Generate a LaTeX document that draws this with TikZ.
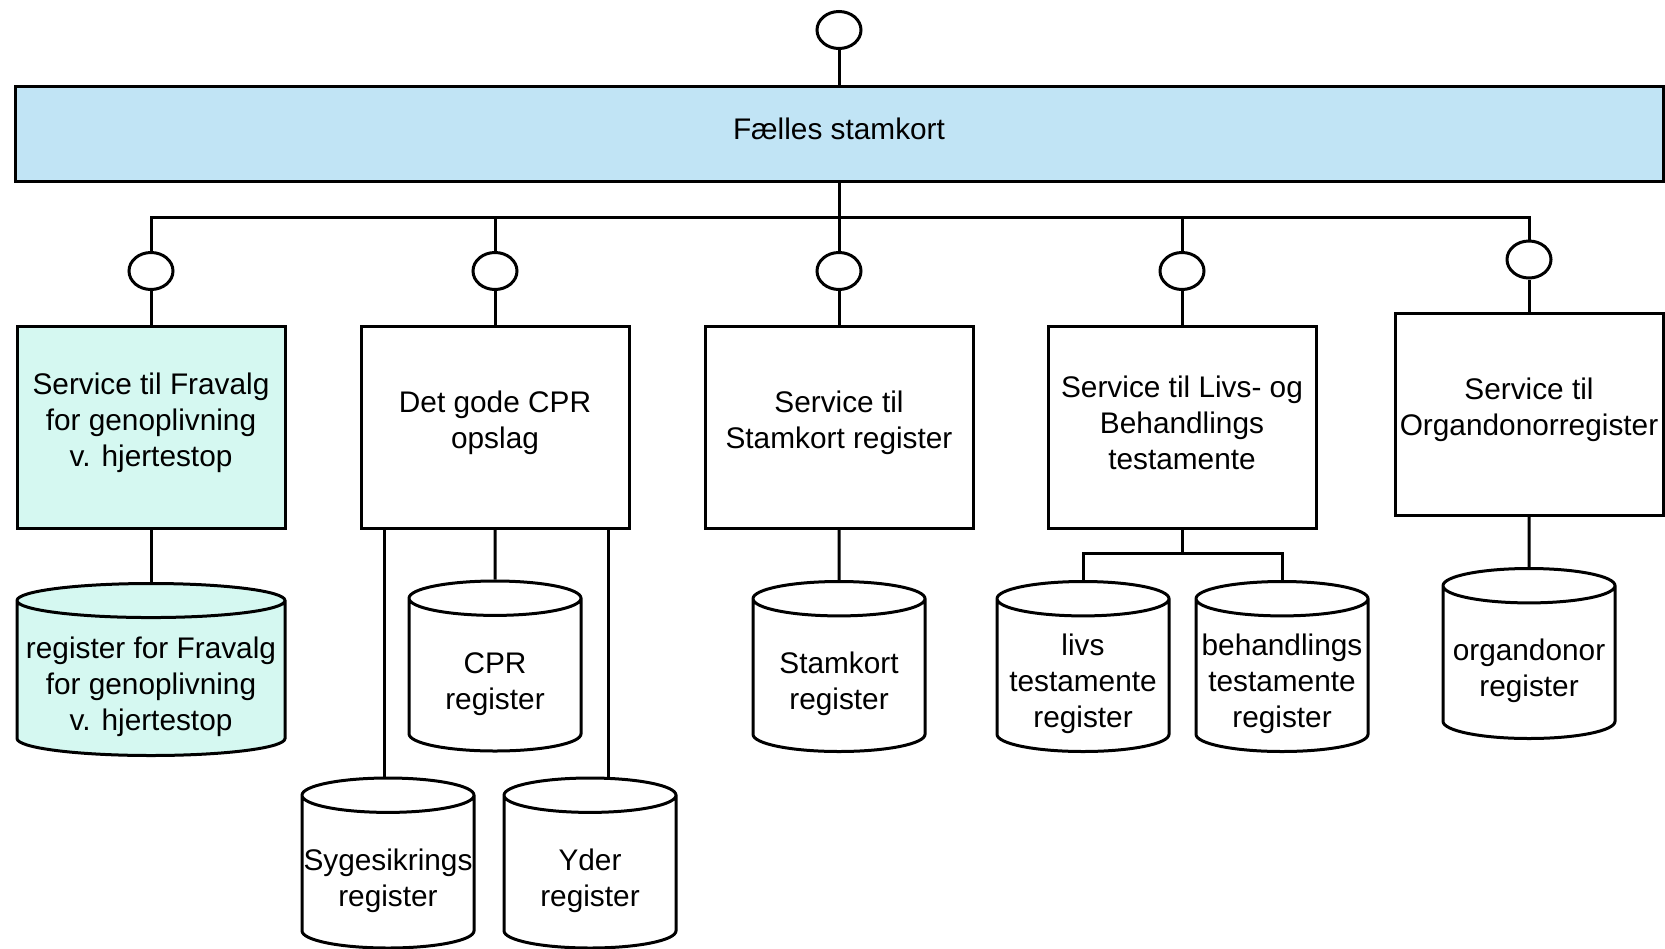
\documentclass[tikz,border=0pt]{standalone}
\usepackage{fontspec}
\setmainfont{Liberation Sans}
\usetikzlibrary{shapes.geometric}

\definecolor{barblue}{RGB}{193,228,245}
\definecolor{regcyan}{RGB}{213,248,241}

\begin{document}
\begin{tikzpicture}[x=0.5pt, y=-0.5pt, line width=1.5pt,
  every node/.style={font=\fontsize{14.9}{18}\selectfont, align=center, inner sep=0pt},
  svc/.style={draw, rectangle, minimum width=134pt, minimum height=101pt,
              label={[yshift=2.25pt]center:#1}},
  iface/.style={draw, ellipse, minimum width=22pt, minimum height=18.5pt},
  dbase/.style={draw, cylinder, shape border rotate=90, aspect=0.2, anchor=shape center,
                text width=86pt, minimum width=86pt, minimum height=85pt,
                label={[yshift=-4.2pt]center:#1}}]
\useasboundingbox (0,0) rectangle (1665,948);

% top bar
\node[draw, fill=barblue, minimum width=824pt, minimum height=47.5pt,
      label={[yshift=2.5pt]center:Fælles stamkort}] (stamkort) at (839,133.5) {};
\node[iface] (topif) at (839,30) {};
\draw (topif) -- (stamkort);

% interfaces
\node[iface] (if1) at (151,271) {};
\node[iface] (if2) at (495,271) {};
\node[iface] (if3) at (839,271) {};
\node[iface] (if4) at (1182,271) {};
\node[iface] (if5) at (1529,259.5) {};
\coordinate (split) at (839,217);
\draw (stamkort) -- (if3);
\draw (if1) |- (split) -| (if5);
\draw (if2) -- (if2 |- split);
\draw (if4) -- (if4 |- split);

% services
\node[svc={Service til Fravalg\\for genoplivning\\v. hjertestop}, fill=regcyan] (svc1) at (151,427) {};
\node[svc={Det gode CPR\\opslag}] (svc2) at (495,427) {};
\node[svc={Service til\\Stamkort register}] (svc3) at (839,427) {};
\node[svc={Service til Livs- og\\Behandlings\\testamente}] (svc4) at (1182,427) {};
\node[svc={Service til\\Organdonorregister}] (svc5) at (1529,414.5) {};
\foreach \i in {1,...,5}
  \draw (if\i) -- (svc\i);

% registers
\node[dbase={register for Fravalg\\for genoplivning\\v. hjertestop}, fill=regcyan,
      text width=134pt, minimum width=134pt, minimum height=86pt, aspect=0.127] (fravalg) at (151,669.5) {};
\node[dbase={CPR\\register}] (cpr) at (495,666) {};
\node[dbase={Sygesikrings\\register}] (syg) at (388,863) {};
\node[dbase={Yder\\register}] (yder) at (590,863) {};
\node[dbase={Stamkort\\register}] (stamreg) at (839,666.5) {};
\node[dbase={livs\\testamente\\register}] (livs) at (1083,666.5) {};
\node[dbase={behandlings\\testamente\\register}] (behand) at (1282,666.5) {};
\node[dbase={organdonor\\register}] (organ) at (1529,653.5) {};

\draw (svc1) -- (fravalg);
\draw (svc2) -- (cpr);
\draw ([xshift=12.5pt]svc2.south west) coordinate (sygtop) -- (sygtop |- syg.north);
\draw ([xshift=-11pt]svc2.south east) coordinate (ydertop) -- (ydertop |- yder.north);
\draw (svc3) -- (stamreg);
\coordinate (fork) at (1182,553);
\draw (svc4) -- (fork);
\draw (livs) |- (fork) -| (behand);
\draw (svc5) -- (organ);
\end{tikzpicture}
\end{document}
